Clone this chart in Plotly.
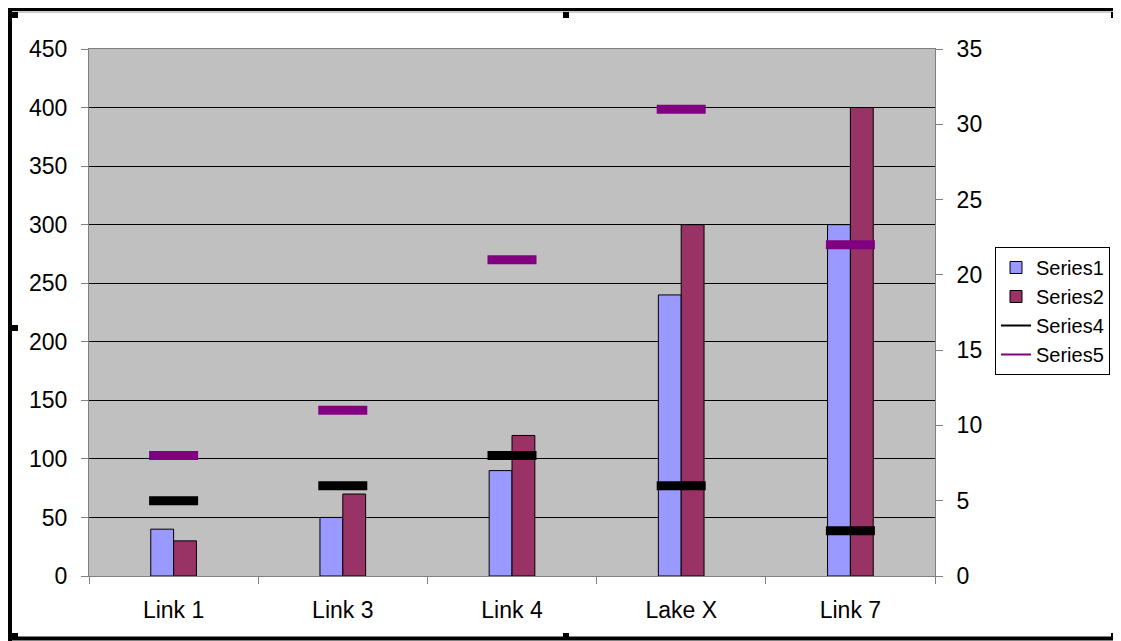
import plotly.graph_objects as go

categories = ["Link 1", "Link 3", "Link 4", "Lake X", "Link 7"]
series1 = [40, 50, 90, 240, 300]
series2 = [30, 70, 120, 300, 400]
series4 = [5, 6, 8, 6, 3]
series5 = [8, 11, 21, 31, 22]
left_ticks = list(range(0, 451, 50))
right_ticks = list(range(0, 36, 5))

# page is rendered with an 8px body margin; work in page coordinates and shift
OFF = 8
W, H = 1121 - OFF, 641 - OFF
L, R, T, B = 89 - OFF, 935 - OFF, 49 - OFF, 576 - OFF

def px(x):
    """page x -> paper x"""
    return (x - OFF - L) / (R - L)

def py(y):
    """page y -> paper y"""
    return (B - (y - OFF)) / (B - T)

FONT = "Liberation Sans, Arial, sans-serif"
FS = 23
S4_COLOR = "black"
S5_COLOR = "#800080"

fig = go.Figure()
fig.add_trace(go.Bar(name="Series1", x=categories, y=series1, legendrank=1,
                     marker=dict(color="#9999FF", line=dict(color="black", width=1))))
fig.add_trace(go.Bar(name="Series2", x=categories, y=series2, legendrank=2,
                     marker=dict(color="#993366", line=dict(color="black", width=1))))
fig.add_trace(go.Scatter(name="Series4", x=categories, y=series4, yaxis="y2", mode="markers",
                         showlegend=False, legendgroup="s4",
                         marker=dict(symbol="line-ew", size=35, color=S4_COLOR,
                                     line=dict(color=S4_COLOR, width=9))))
fig.add_trace(go.Scatter(name="Series5", x=categories, y=series5, yaxis="y2", mode="markers",
                         showlegend=False, legendgroup="s5",
                         marker=dict(symbol="line-ew", size=35, color=S5_COLOR,
                                     line=dict(color=S5_COLOR, width=9))))
# legend-only entries drawn as thin lines, as in the original legend
fig.add_trace(go.Scatter(name="Series4", x=[None], y=[None], yaxis="y2", mode="lines",
                         legendgroup="s4", legendrank=3, line=dict(color=S4_COLOR, width=2)))
fig.add_trace(go.Scatter(name="Series5", x=[None], y=[None], yaxis="y2", mode="lines",
                         legendgroup="s5", legendrank=4, line=dict(color=S5_COLOR, width=2)))

shapes = []
frame = dict(type="line", xref="paper", yref="paper", line=dict(color="black", width=4))
shapes.append(dict(frame, x0=px(8), x1=px(1121), y0=py(9), y1=py(9)))
shapes.append(dict(frame, x0=px(10), x1=px(10), y0=py(8), y1=py(641)))
shapes.append(dict(frame, x0=px(1119.5), x1=px(1119.5), y0=py(8), y1=py(641)))
shapes.append(dict(frame, x0=px(8), x1=px(1121), y0=py(638.5), y1=py(638.5)))
shapes.append(dict(type="line", xref="paper", yref="paper", x0=px(12), x1=px(1117),
                   y0=py(12), y1=py(12), line=dict(color="#999999", width=1)))
for hx, hy in [(15, 15), (566, 15), (1114, 15), (15, 328), (1116, 328), (15, 636), (566, 636), (1114, 636)]:
    shapes.append(dict(type="rect", xref="paper", yref="paper",
                       x0=px(hx - 3), x1=px(hx + 3), y0=py(hy - 3), y1=py(hy + 3),
                       fillcolor="black", line=dict(width=0)))

fig.update_layout(
    width=W, height=H,
    margin=dict(l=L, r=W - R, t=T, b=H - B, autoexpand=False),
    paper_bgcolor="white", plot_bgcolor="#C0C0C0",
    barmode="group", bargap=0.73, bargroupgap=0,
    font=dict(family=FONT, size=FS, color="black"),
    showlegend=True,
    legend=dict(xref="container", yref="container",
                x=(995 - OFF) / W, y=1 - (247 - OFF) / H, xanchor="left", yanchor="top",
                bordercolor="black", borderwidth=1, bgcolor="white",
                font=dict(size=20), tracegroupgap=0, itemwidth=30),
    xaxis=dict(showline=True, linecolor="#808080", linewidth=1, mirror=True,
               ticks="outside", ticklen=7, tickcolor="#808080", tickson="boundaries",
               showgrid=False, ticklabelstandoff=13, tickfont=dict(size=FS)),
    yaxis=dict(range=[0, 450], tickvals=left_ticks, showline=True, linecolor="#808080",
               ticks="outside", ticklen=7, tickcolor="#808080",
               showgrid=True, gridcolor="black", gridwidth=1, zeroline=False,
               ticklabelstandoff=9, tickfont=dict(size=FS)),
    yaxis2=dict(range=[0, 35], tickvals=right_ticks, overlaying="y", side="right",
                showline=True, linecolor="#808080", ticks="outside", ticklen=7,
                tickcolor="#808080", showgrid=False, zeroline=False,
                ticklabelstandoff=9, tickfont=dict(size=FS)),
    shapes=shapes,
)

fig.write_html("out.html")
